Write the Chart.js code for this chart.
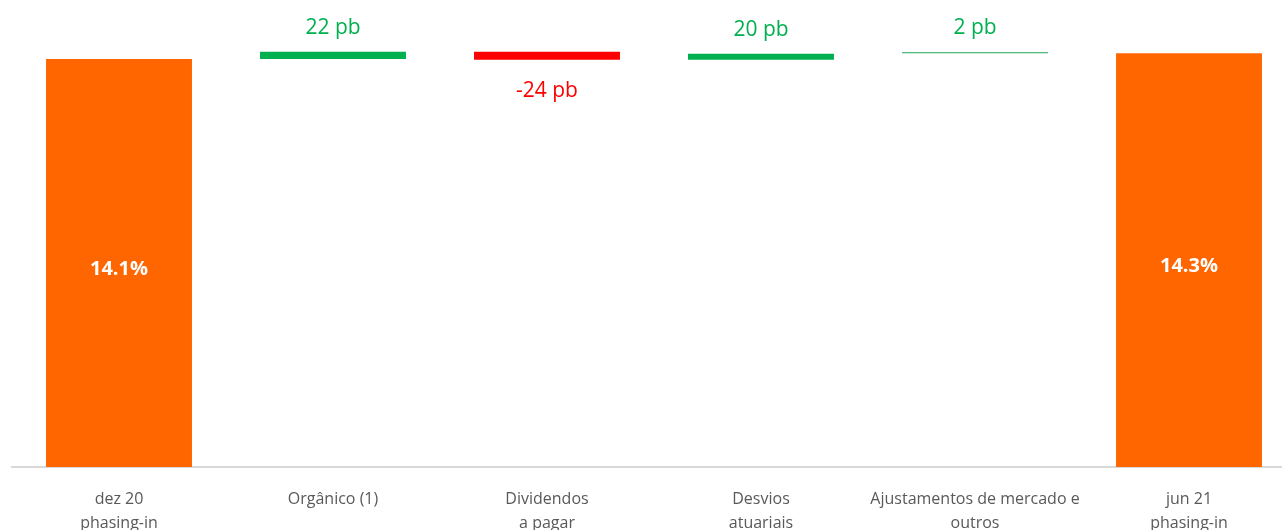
<!DOCTYPE html>
<html>
<head>
<meta charset="utf-8">
<script src="https://cdn.jsdelivr.net/npm/chart.js@4/dist/chart.umd.min.js"></script>
<style>
  html, body { margin: 0; padding: 0; background: #fff; overflow: hidden; }
  #wrap { width: 1296px; height: 530px; position: relative; }
</style>
</head>
<body>
<div id="wrap"><canvas id="waterfall"></canvas></div>
<script>
// categories (multi-line labels)
const categories = [
  ['dez 20', 'phasing-in'],
  'Orgânico (1)',
  ['Dividendos', 'a pagar'],
  ['Desvios', 'atuariais'],
  ['Ajustamentos de mercado e', 'outros'],
  ['jun 21', 'phasing-in']
];
// floating bar ends (% ratio)
const barLow  = [0,     14.10, 14.07, 14.07, 14.295, 0];
const barHigh = [14.10, 14.35, 14.35, 14.28, 14.33,  14.30];
// value labels
const valueLabels = ['14.1%', '22 pb', '-24 pb', '20 pb', '2 pb', '14.3%'];
const labelKind   = ['inside', 'above', 'below', 'above', 'above', 'inside'];

const ORANGE = '#ff6600';
const GREEN  = '#00b050';
const RED    = '#ff0000';
const barColors  = [ORANGE, GREEN, RED, GREEN, '#1fa557', ORANGE];
const textColors = ['#ffffff', GREEN, RED, GREEN, GREEN, '#ffffff'];

const FONT = '"Open Sans", "Noto Sans", sans-serif';

// draws the value labels on / around each bar
const valueLabelPlugin = {
  id: 'valueLabels',
  afterDatasetsDraw(chart) {
    const ctx = chart.ctx;
    const meta = chart.getDatasetMeta(0);
    ctx.save();
    ctx.textAlign = 'center';
    ctx.textBaseline = 'middle';
    meta.data.forEach((bar, i) => {
      const top = Math.min(bar.y, bar.base);
      const bottom = Math.max(bar.y, bar.base);
      let y;
      if (labelKind[i] === 'inside') {
        ctx.font = 'bold 20px ' + FONT;
        y = (top + bottom) / 2 + 6;
      } else if (labelKind[i] === 'above') {
        ctx.font = '21px ' + FONT;
        y = top - 24;
      } else {
        ctx.font = '21px ' + FONT;
        y = bottom + 31;
      }
      ctx.fillStyle = textColors[i];
      ctx.fillText(valueLabels[i], bar.x, y);
    });
    ctx.restore();
  }
};

new Chart(document.getElementById('waterfall'), {
  type: 'bar',
  data: {
    labels: categories,
    datasets: [{
      data: barLow.map((lo, i) => [lo, barHigh[i]]),
      backgroundColor: barColors,
      borderWidth: 0,
      borderSkipped: false,
      categoryPercentage: 1,
      barPercentage: 0.682
    }]
  },
  options: {
    responsive: true,
    maintainAspectRatio: false,
    animation: false,
    layout: { padding: { top: 4, left: 12, right: 0, bottom: 0 } },
    plugins: {
      legend: { display: false },
      tooltip: { enabled: false }
    },
    scales: {
      x: {
        grid: { display: false, drawTicks: false },
        border: { display: true, color: '#d9d9d9', width: 2 },
        ticks: {
          color: '#595959',
          font: { family: FONT, size: 16, lineHeight: 1.5 },
          padding: 20,
          autoSkip: false,
          maxRotation: 0,
          minRotation: 0
        },
        afterFit: s => { s.height = 63; }
      },
      y: {
        display: false,
        min: 0,
        max: 16
      }
    }
  },
  plugins: [valueLabelPlugin]
});
</script>
</body>
</html>
